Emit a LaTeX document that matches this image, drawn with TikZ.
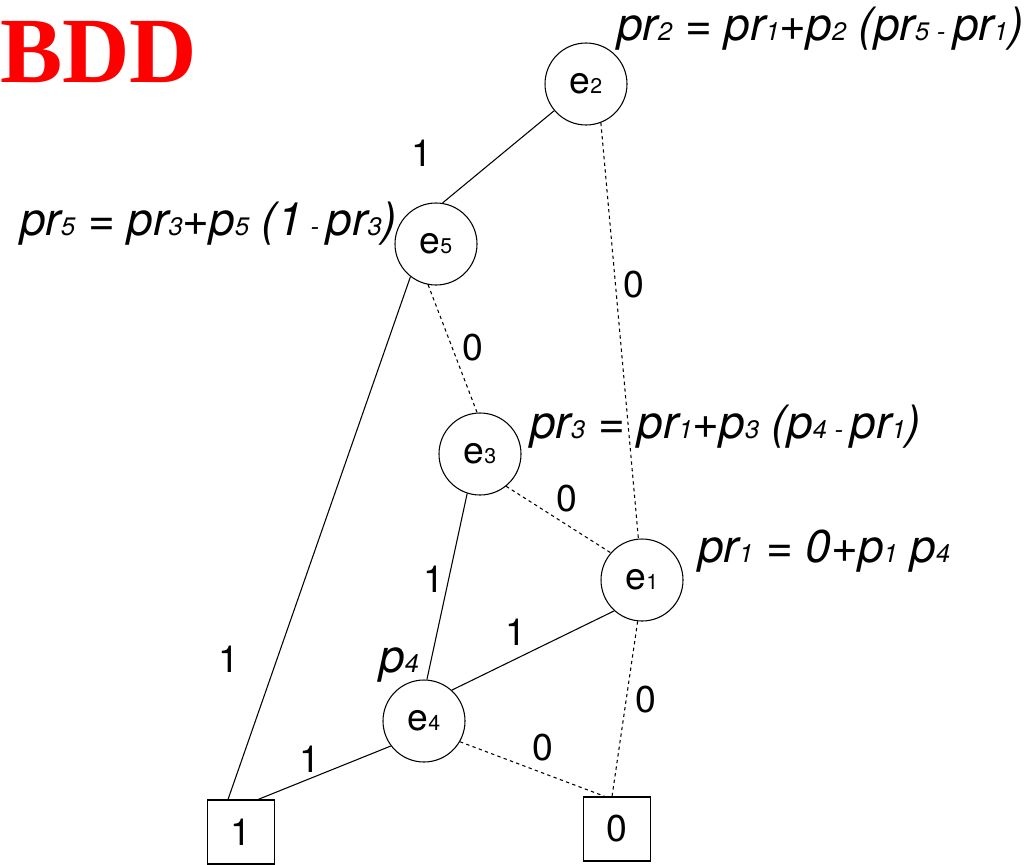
\documentclass[tikz,border=0pt]{standalone}
\usepackage{fontspec}
\setmainfont{TeX Gyre Heros}
\newfontfamily\titlefont{Liberation Serif}
\newcommand\smd[1]{{\fontsize{19}{19}\selectfont #1}}
\newcommand\smn[1]{{\fontsize{16}{16}\selectfont #1}}
\begin{document}
\begin{tikzpicture}[x=0.75pt,y=-0.75pt,
  enode/.style={circle,draw,line width=0.8pt,minimum size=61.5pt,inner sep=0pt,font=\fontsize{28}{28}\selectfont},
  leaf/.style={rectangle,draw,line width=0.8pt,minimum width=50pt,minimum height=48pt,inner sep=0pt,font=\fontsize{28}{28}\selectfont},
  lbl/.style={inner sep=0pt,font=\fontsize{28}{28}\selectfont},
  formula/.style={inner sep=0pt,anchor=base west,font=\fontsize{34.5}{34.5}\selectfont\itshape},
  hi/.style={line width=0.8pt},
  lo/.style={line width=0.8pt,dash pattern=on 2.5pt off 2.5pt}]
\useasboundingbox (0,0) rectangle (1034,864);
% title
\node[inner sep=0pt,anchor=base west,text=red,font=\titlefont\bfseries\fontsize{70}{70}\selectfont] (title) at (0,82) {BDD};
% nodes
\node[enode] (e2) at (586,84) {e\smn{2}};
\node[enode] (e5) at (436,244) {e\smn{5}};
\node[enode] (e3) at (480,454) {e\smn{3}};
\node[enode] (e1) at (642,580) {e\smn{1}};
\node[enode] (e4) at (424,721) {e\smn{4}};
\node[leaf] (one) at (241,832) {1};
\node[leaf] (zero) at (617,829) {0};
% formulas
\node[formula] (f2) at (617,40) {pr\smd{2} = pr\smd{1}+p\smd{2} (pr\smd{5}\,\smd{-}\,pr\smd{1})};
\node[formula] (f5) at (20,235) {pr\smd{5} = pr\smd{3}+p\smd{5} (1\,\smd{-}\,pr\smd{3})};
\node[formula] (f3) at (530,438) {pr\smd{3} = pr\smd{1}+p\smd{3} (p\smd{4}\,\smd{-}\,pr\smd{1})};
\node[formula] (f1) at (698,562) {pr\smd{1} = 0+p\smd{1} p\smd{4}};
\node[formula] (p4) at (379,672) {p\smd{4}};
% edges
\draw[hi] (e2.220) -- (e5.81);
\draw[lo] (e2.-69) -- (e1.95);
\draw[hi] (e5.232) -- ([xshift=-9.75pt]one.north);
\draw[lo] (e5.259) -- (e3.94);
\draw[hi] (e3.252) -- (e4.86);
\draw[lo] (e3.-51) -- (e1.139);
\draw[hi] (e1.228) -- (e4.48);
\draw[lo] (e1.264) -- ([xshift=-3.75pt]zero.north);
\draw[hi] (e4.217) -- ([xshift=12.75pt]one.north);
\draw[lo] (e4.-30) -- ([xshift=-9pt]zero.north);
% edge labels
\node[lbl] (l25) at (422,153) {1};
\node[lbl] (l21) at (634,285) {0};
\node[lbl] (l53) at (473,348) {0};
\node[lbl] (l31) at (567,499) {0};
\node[lbl] (l34) at (434,579) {1};
\node[lbl] (l14) at (516,632) {1};
\node[lbl] (l5t) at (229,659) {1};
\node[lbl] (l1f) at (646,700) {0};
\node[lbl] (l4t) at (310,759) {1};
\node[lbl] (l4f) at (543,748) {0};
\end{tikzpicture}
\end{document}
